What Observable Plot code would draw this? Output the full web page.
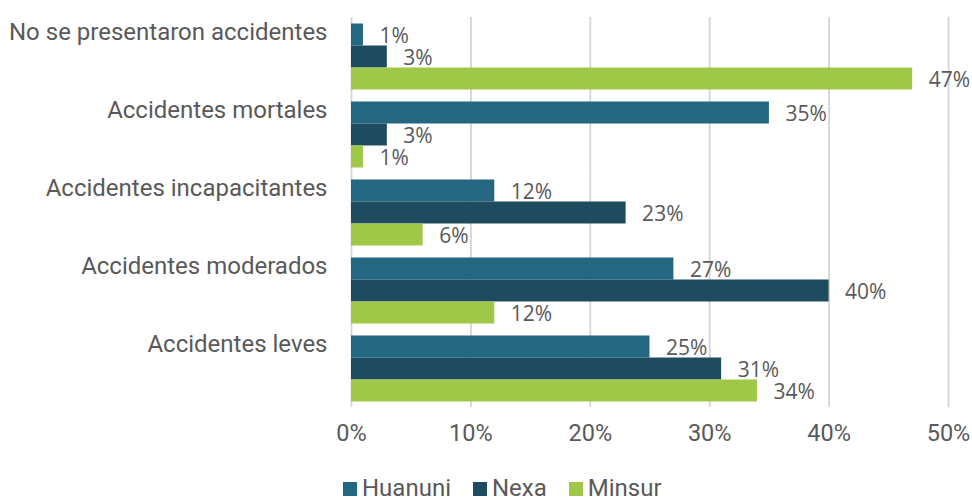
<!DOCTYPE html>
<html>
<head>
<meta charset="utf-8">
<script src="https://cdn.jsdelivr.net/npm/d3@7"></script>
<script src="https://cdn.jsdelivr.net/npm/@observablehq/plot@0.6"></script>
<style>
  html, body { margin: 0; padding: 0; background: #fff; overflow: hidden; }
  #wrap { position: relative; width: 972px; height: 501px; }
  #legend { position: absolute; left: 343px; top: 476px; font-family: Roboto, sans-serif;
            font-size: 24px; line-height: 24px; color: #595959; white-space: nowrap; }
  #legend .item { display: inline-block; margin-right: 22px; }
  #legend .sw { display: inline-block; width: 14px; height: 14px; margin-right: 5px; }
</style>
</head>
<body>
<div id="wrap"></div>
<script>
const categories = ["No se presentaron accidentes", "Accidentes mortales", "Accidentes incapacitantes", "Accidentes moderados", "Accidentes leves"];
const series = ["Huanuni", "Nexa", "Minsur"];
const huanuni = [1, 35, 12, 27, 25];
const nexa = [3, 3, 23, 40, 31];
const minsur = [47, 1, 6, 12, 34];
const colors = ["#236781", "#1f4b60", "#a0c848"];
const xTicks = [0, 10, 20, 30, 40, 50];

const seriesValues = [huanuni, nexa, minsur];
const data = categories.flatMap((c, i) =>
  series.map((s, j) => ({category: c, series: s, value: seriesValues[j][i]})));

const W = 972, H = 470, mTop = 16.5, mBottom = 61.5, mLeft = 351, mRight = 24;
const pInner = 0.15, pOuter = 0.075;
const step = (H - mTop - mBottom) / (categories.length - pInner + 2 * pOuter);
const halfGap = step * pInner / 2;

const chart = Plot.plot({
  width: W, height: H,
  marginTop: mTop, marginBottom: mBottom, marginLeft: mLeft, marginRight: mRight,
  style: {color: "#595959", background: "#fff", fontFamily: "Roboto, sans-serif"},
  x: {domain: [0, 50]},
  y: {domain: series, padding: 0, axis: null},
  fy: {domain: categories, paddingInner: pInner, paddingOuter: pOuter},
  color: {domain: series, range: colors},
  marks: [
    Plot.gridX(xTicks, {stroke: "#d3d3d3", strokeOpacity: 1, strokeWidth: 1.75,
                        insetTop: -halfGap, insetBottom: -halfGap}),
    Plot.barX(data, {fy: "category", y: "series", x: "value", fill: "series"}),
    Plot.text(data, {fy: "category", y: "series", x: "value", text: d => d.value + "%",
                     textAnchor: "start", dx: 16, dy: 1, fill: "#595959",
                     fontFamily: "'Open Sans', sans-serif", fontSize: 21}),
    Plot.axisX(xTicks, {tickSize: 0, tickPadding: 23, tickFormat: d => d + "%",
                        label: null, fontSize: 23.5, fontFamily: "Roboto, sans-serif", fill: "#595959"}),
    Plot.axisFy({anchor: "left", tickSize: 0, tickPadding: 24, dy: -24, label: null,
                 fontSize: 24, fontFamily: "Roboto, sans-serif", fill: "#595959"})
  ]
});

const wrap = document.getElementById("wrap");
wrap.appendChild(chart);

const legend = document.createElement("div");
legend.id = "legend";
series.forEach((s, i) => {
  const item = document.createElement("span");
  item.className = "item";
  const sw = document.createElement("span");
  sw.className = "sw";
  sw.style.background = colors[i];
  item.appendChild(sw);
  item.appendChild(document.createTextNode(s));
  legend.appendChild(item);
});
wrap.appendChild(legend);
</script>
</body>
</html>
